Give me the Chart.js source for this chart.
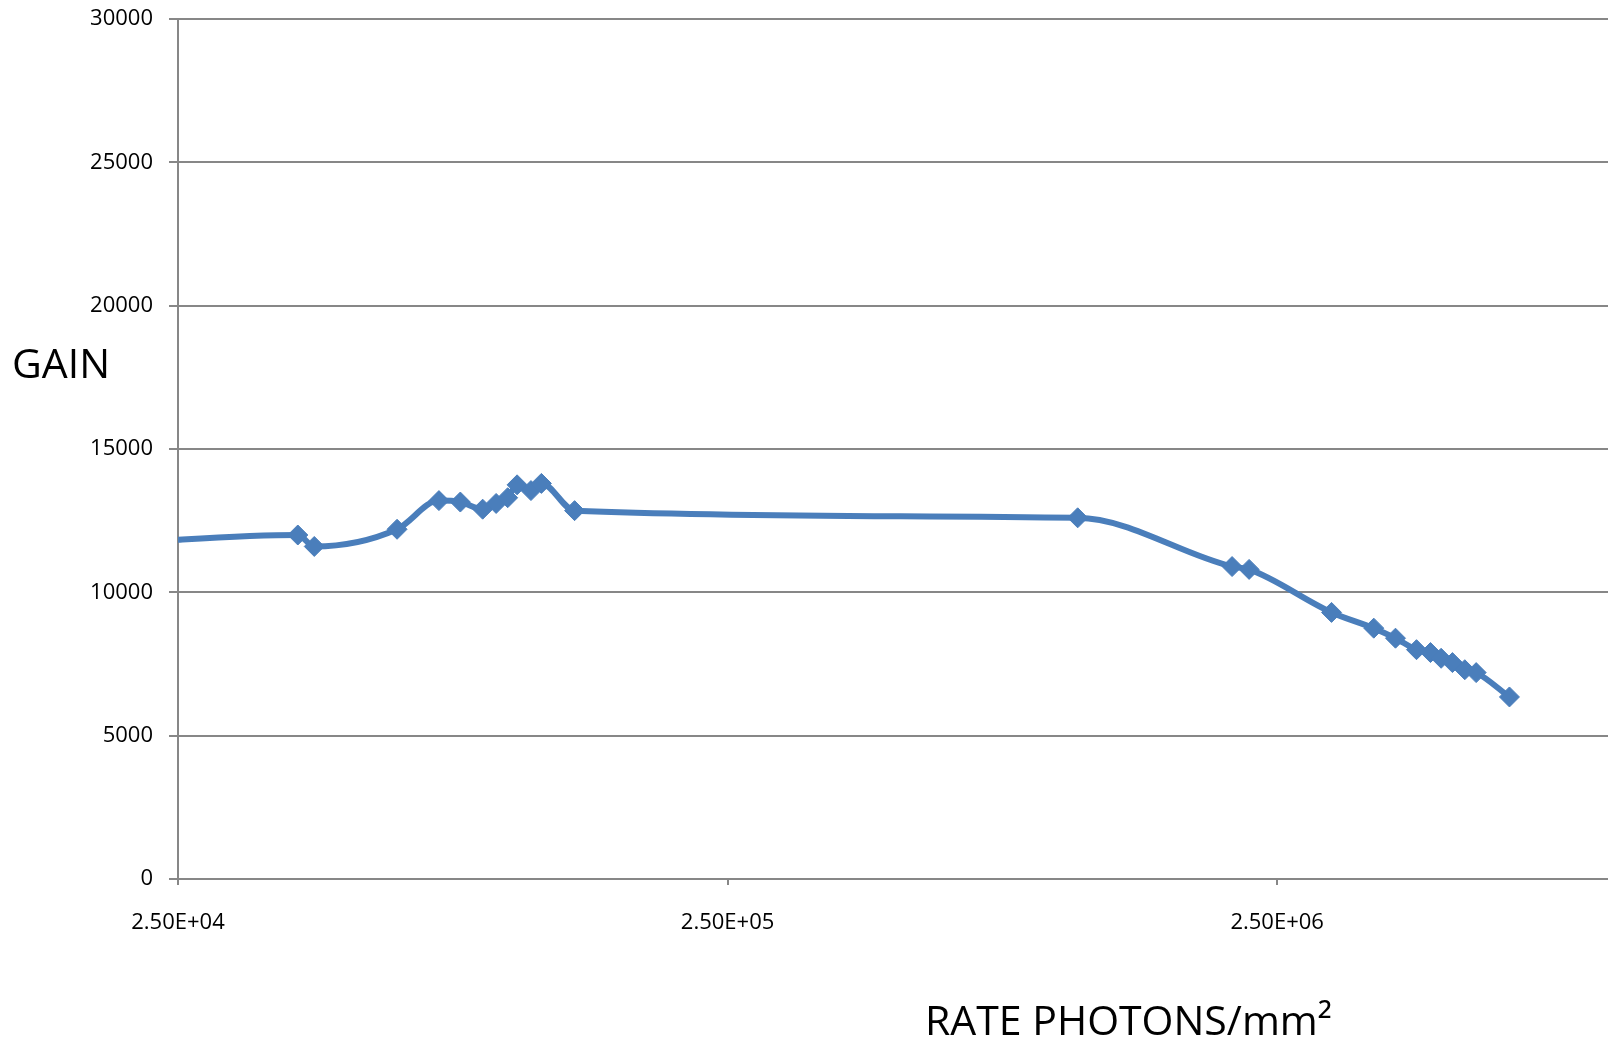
<!DOCTYPE html>
<html>
<head>
<meta charset="utf-8">
<script src="https://cdn.jsdelivr.net/npm/chart.js@4/dist/chart.umd.min.js"></script>
<style>
    html, body { margin: 0; padding: 0; background: #fff; overflow: hidden; }
    /* 11px wider than the window: the point overflow padding on the right falls outside */
    #wrap { position: relative; width: 1619px; height: 1045px; }
    #gainChart { display: block; }
</style>
</head>
<body>
<div id="wrap"><canvas id="gainChart"></canvas></div>
<script>
// rate (photons/mm2) and gain
const rate = [20000, 41300, 44250, 62600, 74600, 81600, 89600, 94800, 99500, 103500, 109700, 114600, 131700,
    1084000, 2070000, 2223000, 3140000, 3748000, 4105000, 4483000, 4753000, 4970000, 5211000, 5488000, 5756000, 6617000];
const gain = [11740, 12000, 11600, 12200, 13200, 13150, 12900, 13100, 13300, 13750, 13550, 13800, 12850,
    12600, 10900, 10800, 9300, 8750, 8400, 8000, 7900, 7700, 7550, 7300, 7200, 6350];

const xTickValues = [25000, 250000, 2500000];
const xTickLabels = ['2.50E+04', '2.50E+05', '2.50E+06'];
const yTickValues = [0, 5000, 10000, 15000, 20000, 25000, 30000];

const yTitle = 'GAIN';
const xTitle = 'RATE PHOTONS/mm²';

const blue = '#4a7ebb';
const gridGray = '#878787';
const fontFamily = '"Open Sans", "DejaVu Sans", sans-serif';

// axis titles are horizontal, drawn by hand
const axisTitles = {
    id: 'axisTitles',
    afterDraw(chart) {
        const ctx = chart.ctx;
        ctx.save();
        ctx.fillStyle = '#000';
        ctx.font = '41px ' + fontFamily;
        ctx.textBaseline = 'alphabetic';
        ctx.textAlign = 'left';
        ctx.fillText(yTitle, 12, 378);
        ctx.fillText(xTitle, 925, 1035);
        ctx.restore();
    }
};

const points = rate.map((r, i) => ({ x: r, y: gain[i] }));

const config = {
    type: 'line',
    data: {
        datasets: [{
            label: yTitle,
            data: points,
            borderColor: blue,
            backgroundColor: blue,
            borderWidth: 6,
            cubicInterpolationMode: 'monotone',
            pointStyle: 'rectRot',
            pointRadius: 10,
            pointHoverRadius: 10,
            pointBorderWidth: 1,
            pointBackgroundColor: blue,
            pointBorderColor: blue,
            fill: false
        }]
    },
    options: {
        responsive: true,
        maintainAspectRatio: false,
        animation: false,
        layout: { padding: { top: 19, right: 0, bottom: 0, left: 0 } },
        plugins: {
            legend: { display: false },
            tooltip: { enabled: false }
        },
        scales: {
            x: {
                type: 'logarithmic',
                min: 25000,
                max: 10000000,
                afterBuildTicks: function (scale) {
                    scale.ticks = xTickValues.map(v => ({ value: v }));
                },
                afterFit: function (scale) {
                    scale.height = 166;
                    scale.paddingLeft = 0;
                    scale.paddingRight = 0;
                },
                ticks: {
                    autoSkip: false,
                    maxRotation: 0,
                    padding: 25,
                    color: '#000',
                    font: { family: fontFamily, size: 22 },
                    callback: function (value) {
                        const i = xTickValues.indexOf(value);
                        return i >= 0 ? xTickLabels[i] : '';
                    }
                },
                grid: {
                    drawOnChartArea: false,
                    drawTicks: true,
                    tickLength: 6,
                    color: gridGray,
                    lineWidth: 2
                },
                border: { display: true, color: gridGray, width: 2 }
            },
            y: {
                min: 0,
                max: 30000,
                afterBuildTicks: function (scale) {
                    scale.ticks = yTickValues.map(v => ({ value: v }));
                },
                afterFit: function (scale) {
                    scale.width = 178;
                    scale.paddingTop = 0;
                    scale.paddingBottom = 0;
                },
                ticks: {
                    padding: 16,
                    color: '#000',
                    font: { family: fontFamily, size: 22 },
                    callback: value => String(value)
                },
                grid: {
                    color: gridGray,
                    lineWidth: 2,
                    tickLength: 9
                },
                border: { display: true, color: gridGray, width: 2 }
            }
        }
    },
    plugins: [axisTitles]
};

const ctx = document.getElementById('gainChart').getContext('2d');
new Chart(ctx, config);
</script>
</body>
</html>
